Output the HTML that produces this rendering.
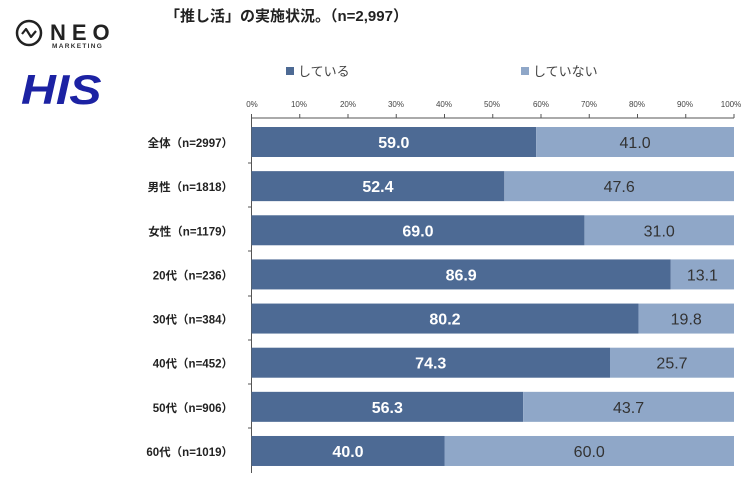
<!DOCTYPE html>
<html><head><meta charset="utf-8"><style>
html,body{margin:0;padding:0;background:#fff;}
svg{display:block;}
</style></head><body>
<svg width="754" height="483" xmlns="http://www.w3.org/2000/svg" font-family="'Liberation Sans','Noto Sans CJK JP',sans-serif">
<circle cx="29" cy="33" r="12" fill="none" stroke="#222" stroke-width="2.5"/>
<polyline points="22,34 26,29 31,37 36,31" fill="none" stroke="#222" stroke-width="2.2" stroke-linejoin="round"/>
<text x="50" y="40" font-size="22" font-weight="bold" fill="#222" letter-spacing="6">NEO</text>
<text x="52" y="48" font-size="6.5" font-weight="bold" fill="#333" letter-spacing="1.3">MARKETING</text>
<text x="0" y="0" font-size="42" font-weight="bold" font-style="italic" fill="#1c22a3" transform="translate(21,104) scale(1.15,1)">HIS</text>
<text x="165" y="21" font-size="15" font-weight="bold" fill="#222">「推し活」の実施状況。（n=2,997）</text>
<rect x="286" y="67" width="8" height="8" fill="#4d6a94"/>
<text x="298" y="76" font-size="13" fill="#444">している</text>
<rect x="521" y="67" width="8" height="8" fill="#8fa7c8"/>
<text x="533" y="76" font-size="13" fill="#444">していない</text>
<g font-size="8" fill="#444" text-anchor="middle">
<text x="252" y="107">0%</text><text x="299" y="107">10%</text><text x="348" y="107">20%</text><text x="396" y="107">30%</text><text x="444" y="107">40%</text><text x="492" y="107">50%</text><text x="541" y="107">60%</text><text x="589" y="107">70%</text><text x="637" y="107">80%</text><text x="685" y="107">90%</text><text x="731" y="107">100%</text>
</g>
<line x1="251.5" y1="118" x2="734" y2="118" stroke="#555" stroke-width="1"/>
<g stroke="#555" stroke-width="1">
<line x1="251.5" y1="114" x2="251.5" y2="473"/>
<line x1="299.75" y1="114" x2="299.75" y2="118"/><line x1="348" y1="114" x2="348" y2="118"/><line x1="396.25" y1="114" x2="396.25" y2="118"/><line x1="444.5" y1="114" x2="444.5" y2="118"/><line x1="492.75" y1="114" x2="492.75" y2="118"/><line x1="541" y1="114" x2="541" y2="118"/><line x1="589.25" y1="114" x2="589.25" y2="118"/><line x1="637.5" y1="114" x2="637.5" y2="118"/><line x1="685.75" y1="114" x2="685.75" y2="118"/><line x1="734" y1="114" x2="734" y2="118"/>
<line x1="248" y1="163" x2="251.5" y2="163"/><line x1="248" y1="207" x2="251.5" y2="207"/><line x1="248" y1="251" x2="251.5" y2="251"/><line x1="248" y1="296" x2="251.5" y2="296"/><line x1="248" y1="340" x2="251.5" y2="340"/><line x1="248" y1="384" x2="251.5" y2="384"/><line x1="248" y1="428" x2="251.5" y2="428"/>
</g>
<g id="bars"></g>
</svg>
<script>
var d=[["全体（n=2997）",59.0,41.0],["男性（n=1818）",52.4,47.6],["女性（n=1179）",69.0,31.0],["20代（n=236）",86.9,13.1],["30代（n=384）",80.2,19.8],["40代（n=452）",74.3,25.7],["50代（n=906）",56.3,43.7],["60代（n=1019）",40.0,60.0]];
var g=document.getElementById('bars'),x0=251.5,s=4.825,h='';
d.forEach(function(r,i){var y=127+i*44.14,w1=r[1]*s,w2=r[2]*s;
h+='<rect x="'+x0+'" y="'+y+'" width="'+w1+'" height="30" fill="#4d6a94"/>';
h+='<rect x="'+(x0+w1)+'" y="'+y+'" width="'+w2+'" height="30" fill="#8fa7c8"/>';
h+='<text x="'+(x0+w1/2)+'" y="'+(y+21)+'" font-size="16" font-weight="bold" fill="#fff" text-anchor="middle">'+r[1].toFixed(1)+'</text>';
h+='<text x="'+(x0+w1+w2/2)+'" y="'+(y+21)+'" font-size="16" fill="#333" text-anchor="middle">'+r[2].toFixed(1)+'</text>';
h+='<text x="233" y="'+(y+20)+'" font-size="11.5" font-weight="bold" fill="#222" text-anchor="end">'+r[0]+'</text>';});
g.innerHTML=h;
</script>
</body></html>
